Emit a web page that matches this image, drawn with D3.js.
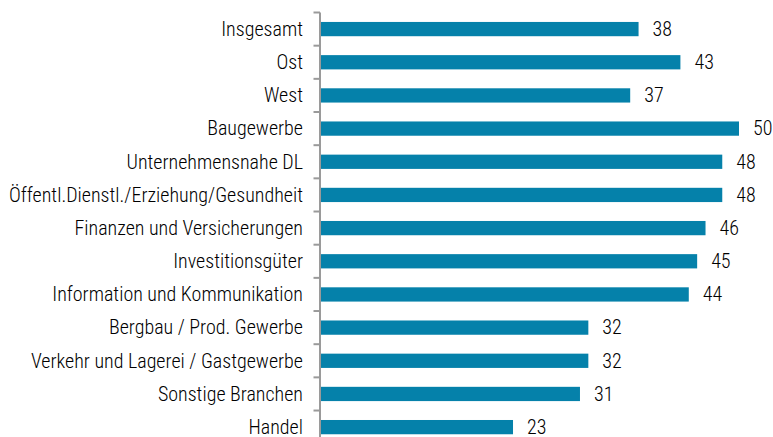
<!DOCTYPE html>
<html>
<head>
<meta charset="utf-8">
<script src="https://cdn.jsdelivr.net/npm/d3@7"></script>
<style>
  body { margin: 0; background: #fff; }
  text { font-family: "Roboto Condensed", "DejaVu Sans Condensed", sans-serif; font-weight: 300; fill: #000; }
</style>
</head>
<body>
<div id="chart"></div>
<script>
// categories and values
var categories = [
  "Insgesamt", "Ost", "West", "Baugewerbe", "Unternehmensnahe DL",
  "Öffentl.Dienstl./Erziehung/Gesundheit", "Finanzen und Versicherungen",
  "Investitionsgüter", "Information und Kommunikation", "Bergbau / Prod. Gewerbe ",
  "Verkehr und Lagerei / Gastgewerbe", "Sonstige Branchen", "Handel"
];
var values = [38, 43, 37, 50, 48, 48, 46, 45, 44, 32, 32, 31, 23];

var svgWidth = 773;
var svgHeight = 437;

var margin = { top: 12.5, left: 320.5 };

var svg = d3.select("#chart")
  .append("svg")
  .attr("width", svgWidth)
  .attr("height", svgHeight);

var data = categories.map(function(c, i) { return { name: c, value: values[i] }; });

// x scale: 50 -> ~739px
var x = d3.scaleLinear()
  .domain([0, 50])
  .range([margin.left, 739]);

var y = d3.scaleBand()
  .domain(categories)
  .range([margin.top, margin.top + 33.17 * categories.length])
  .paddingInner(0.57)
  .paddingOuter(0.285);

// bars
svg.append("g").selectAll("rect")
  .data(data)
  .enter()
  .append("rect")
  .attr("x", x(0))
  .attr("y", d => y(d.name))
  .attr("width", d => x(d.value) - x(0))
  .attr("height", y.bandwidth())
  .attr("fill", "#0581aa");

// value labels
svg.append("g").selectAll("text")
  .data(data)
  .enter()
  .append("text")
  .attr("x", d => x(d.value) + 14)
  .attr("y", d => y(d.name) + y.bandwidth() / 2)
  .attr("dy", "0.34em")
  .attr("font-size", 20)
  .text(d => d.value);

// category labels
svg.append("g").selectAll("text")
  .data(data)
  .enter()
  .append("text")
  .attr("x", 303)
  .attr("y", d => y(d.name) + y.bandwidth() / 2)
  .attr("dy", "0.34em")
  .attr("text-anchor", "end")
  .attr("font-size", 20)
  .text(d => d.name);

// axis line with ticks at band boundaries
var step = y.step();
var bounds = d3.range(categories.length + 1).map(i => margin.top + i * step);

var axis = svg.append("g").attr("stroke", "#9a9a9a").attr("stroke-width", 2);
axis.append("line")
  .attr("x1", x(0) - 0.5).attr("x2", x(0) - 0.5)
  .attr("y1", bounds[0]).attr("y2", bounds[bounds.length - 1]);
axis.selectAll("line.tick")
  .data(bounds)
  .enter()
  .append("line")
  .attr("class", "tick")
  .attr("x1", x(0) - 7).attr("x2", x(0) - 0.5)
  .attr("y1", d => d).attr("y2", d => d);
</script>
</body>
</html>
